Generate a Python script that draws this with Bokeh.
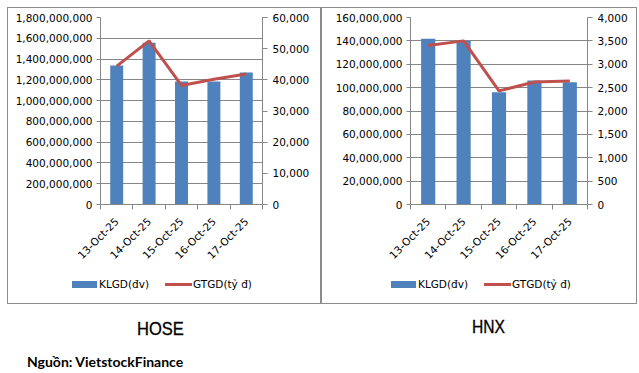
from bokeh.plotting import figure
from bokeh.models import (Range1d, LinearAxis, FixedTicker, NumeralTickFormatter, Div)
from bokeh.layouts import row, column
from bokeh.embed import file_html
from bokeh.resources import INLINE
import math

dates = ["13-Oct-25", "14-Oct-25", "15-Oct-25", "16-Oct-25", "17-Oct-25"]

hose_klgd = [1338e6, 1558e6, 1185e6, 1185e6, 1270e6]
hose_gtgd = [44400, 52500, 38200, 40200, 41900]

hnx_klgd = [141.8e6, 140.0e6, 96.0e6, 106.0e6, 104.5e6]
hnx_gtgd = [3400, 3500, 2430, 2620, 2640]

hose_left_ticks = list(range(0, 1800000001, 200000000))
hose_right_ticks = list(range(0, 60001, 10000))
hnx_left_ticks = list(range(0, 160000001, 20000000))
hnx_right_ticks = list(range(0, 4001, 500))

series_names = ["KLGD(đv)", "GTGD(tỷ đ)"]

BAR = "#4F81BD"
LINE = "#C0504D"
AX = "#868686"
BOX = "#8c8c8c"
FONT = "DejaVu Sans"
FS = "10.5px"
HC = 260   # chart figure height
HL = 35    # legend strip height


def style_axis(ax):
    ax.major_label_text_font = FONT
    ax.major_label_text_font_size = FS
    ax.major_label_text_color = "#000000"
    ax.axis_line_color = AX


def make_chart(klgd, gtgd, lticks, rticks, width, mleft, mright):
    xs = list(range(len(dates)))
    p = figure(width=width, height=HC, output_backend="svg", toolbar_location=None,
               x_range=Range1d(-0.5, len(dates) - 0.5),
               y_range=Range1d(lticks[0], lticks[-1]),
               min_border_left=mleft, min_border_right=mright,
               min_border_top=9, min_border_bottom=HC - 9 - 188, margin=0)
    p.outline_line_color = None
    p.background_fill_color = "white"
    p.border_fill_color = "white"
    p.extra_y_ranges = {"r": Range1d(rticks[0], rticks[-1])}

    p.vbar(x=xs, top=klgd, width=0.4, fill_color=BAR, line_color=None)
    p.line(x=xs, y=gtgd, y_range_name="r", line_color=LINE, line_width=3)

    xa = p.xaxis[0]
    xa.ticker = FixedTicker(ticks=xs, minor_ticks=[i - 0.5 for i in range(len(dates) + 1)])
    xa.major_label_overrides = {i: d for i, d in enumerate(dates)}
    xa.major_label_orientation = math.pi / 4
    xa.major_tick_out = 0
    xa.major_tick_in = 0
    xa.minor_tick_out = 5
    xa.minor_tick_in = 0
    xa.minor_tick_line_color = AX
    xa.major_label_standoff = 10
    style_axis(xa)

    ya = p.yaxis[0]
    ya.ticker = FixedTicker(ticks=lticks)
    ya.formatter = NumeralTickFormatter(format="0,0")
    ya.minor_tick_line_color = None
    ya.major_tick_out = 4
    ya.major_tick_in = 0
    ya.major_tick_line_color = AX
    ya.major_label_standoff = 4
    style_axis(ya)

    ra = LinearAxis(y_range_name="r", ticker=FixedTicker(ticks=rticks),
                    formatter=NumeralTickFormatter(format="0,0"))
    ra.minor_tick_line_color = None
    ra.major_tick_out = 5
    ra.major_tick_in = 0
    ra.major_tick_line_color = AX
    ra.major_label_standoff = 5
    style_axis(ra)
    p.add_layout(ra, "right")

    p.xgrid.visible = False
    p.ygrid.ticker = FixedTicker(ticks=lticks)
    p.ygrid.grid_line_color = AX
    return p


def make_legend(width, x0):
    # x0: left edge of the first legend key inside the strip
    t = (f'<div style="position:relative;width:{width}px;height:{HL}px;'
         f'font-family:\'{FONT}\';font-size:{FS};line-height:12px;color:#000;">'
         f'<span style="position:absolute;left:{x0}px;top:13px;width:25px;height:7px;'
         f'background:{BAR};"></span>'
         f'<span style="position:absolute;left:{x0 + 27}px;top:10px;white-space:nowrap;">'
         f'{series_names[0]}</span>'
         f'<span style="position:absolute;left:{x0 + 93}px;top:15px;width:27px;height:3px;'
         f'background:{LINE};"></span>'
         f'<span style="position:absolute;left:{x0 + 121}px;top:10px;white-space:nowrap;">'
         f'{series_names[1]}</span></div>')
    return Div(width=width, height=HL, margin=0, text=t)


def vline():
    return Div(width=1, height=HC + HL, margin=0, styles={"background-color": BOX})


def hline(w):
    return Div(width=w, height=1, margin=0, styles={"background-color": BOX})


p1 = make_chart(hose_klgd, hose_gtgd, hose_left_ticks, hose_right_ticks, 312, 92, 58)
p2 = make_chart(hnx_klgd, hnx_gtgd, hnx_left_ticks, hnx_right_ticks, 314, 88, 49)
l1 = make_legend(312, 64)
l2 = make_legend(314, 69)

charts = column(hline(630),
                row(vline(), column(p1, l1), vline(), vline(), column(p2, l2), vline()),
                hline(630), margin=(7, 0, 0, 7))

titles = Div(width=639, height=44, margin=0, text=(
    '<div style="position:relative;width:639px;height:44px;'
    'font-family:\'Liberation Sans Narrow\',\'Liberation Sans\',sans-serif;'
    'font-size:19px;color:#000;-webkit-text-stroke:0.35px #000;">'
    '<span style="position:absolute;left:137px;top:11px;display:inline-block;'
    'transform:scaleX(0.87);transform-origin:left;">HOSE</span>'
    '<span style="position:absolute;left:472px;top:9px;display:inline-block;'
    'transform:scaleX(0.82);transform-origin:left;">HNX</span>'
    '</div>'))

source = Div(width=639, height=22, margin=0, text=(
    '<div style="position:relative;width:639px;height:22px;'
    'font-family:Lato,\'Open Sans\',sans-serif;font-weight:bold;font-size:14px;color:#000;">'
    '<span style="position:absolute;left:27px;top:4px;">Nguồn: VietstockFinance</span>'
    '</div>'))

layout = column(charts, titles, source, margin=0)

open("out.html", "w").write(file_html(layout, INLINE))
